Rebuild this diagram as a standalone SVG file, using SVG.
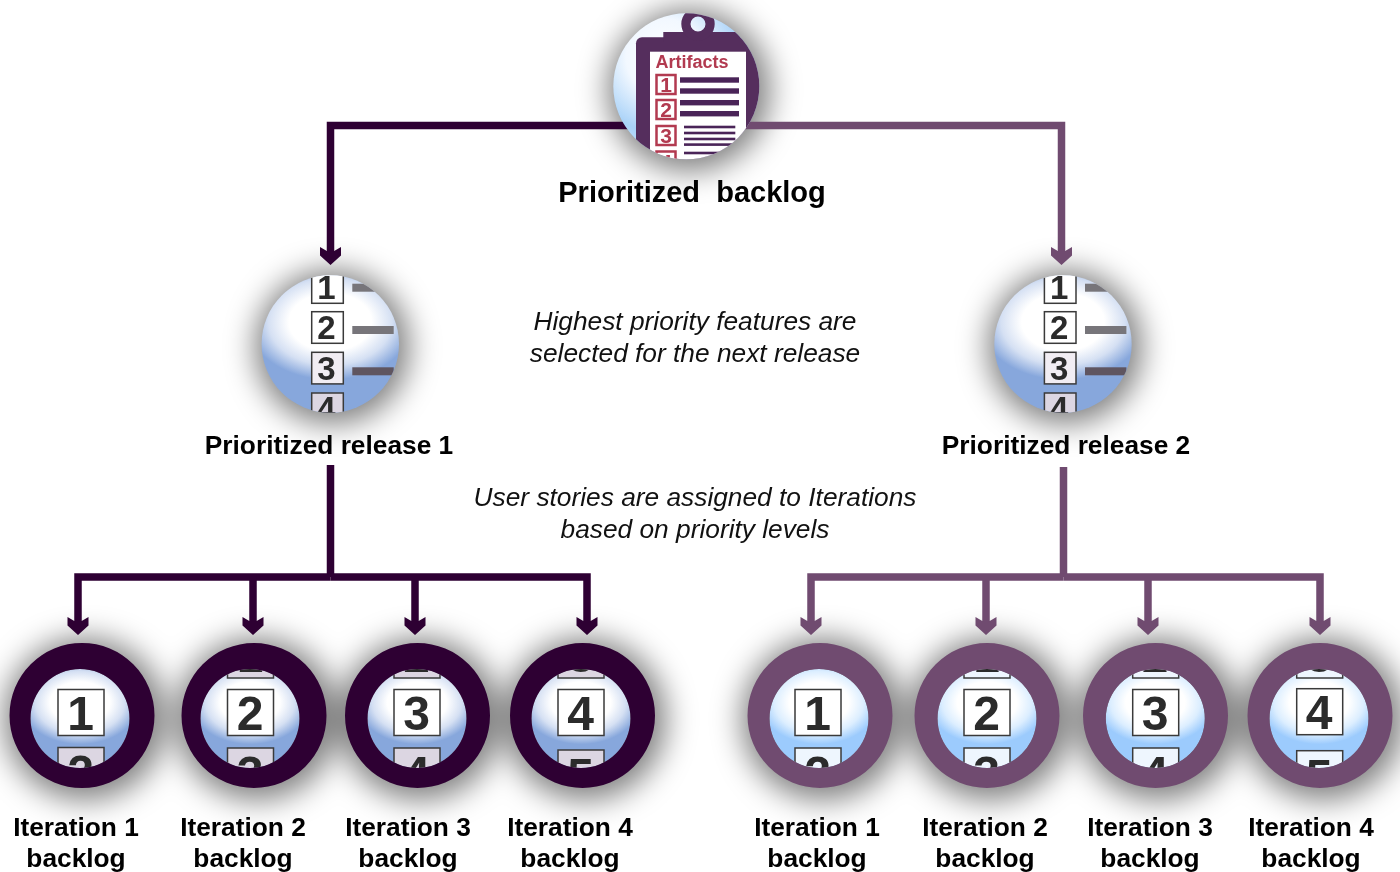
<svg xmlns="http://www.w3.org/2000/svg" width="1400" height="872" viewBox="0 0 1400 872">
<style>
text{font-family:"Liberation Sans",Arial,sans-serif}
.lab{font-size:26.300px;font-weight:700;fill:#000;text-anchor:middle}
.note{font-size:26.300px;font-style:italic;fill:#111;text-anchor:middle}
.dk{fill:none;stroke:#2e0033;stroke-width:7.500}
.lt{fill:none;stroke:#704b70;stroke-width:7.500}
.amd{marker-end:url(#headD)}
.aml{marker-end:url(#headL)}
.sh{fill:#000;opacity:.5}
.tile{fill:#fff;stroke:#3a3a3a;stroke-width:1.5}
.tileD{fill:#dcd6e2;stroke:#3a3a3a;stroke-width:1.5}
.tileL{fill:#eef6fe;stroke:#3a3a3a;stroke-width:1.5}
.big{font-size:48px;font-weight:700;fill:#2b2b2b;text-anchor:middle}
.mid{font-size:33px;font-weight:700;fill:#2b2b2b;text-anchor:middle}
.rT{fill:#fff;stroke:#b23a50;stroke-width:2.5}
.rN{font-size:21px;font-weight:700;fill:#b23a50;text-anchor:middle}
.ringD{fill:#2e0033;fill-rule:evenodd}
.ringL{fill:#704b70;fill-rule:evenodd}
.ln{fill:#4a2458}
</style>
<defs>
<filter id="blur" filterUnits="userSpaceOnUse" x="0" y="0" width="1400" height="872"><feGaussianBlur stdDeviation="15"/></filter>
<marker id="headD" viewBox="-20 -12 20 24" markerUnits="userSpaceOnUse" markerWidth="20" markerHeight="24" refX="-8" refY="0" orient="auto"><path d="M-18,-10.500L-14,-3.700V3.700L-18,10.500H-9.500L0,0L-9.500,-10.500Z" fill="#2e0033"/></marker>
<marker id="headL" viewBox="-20 -12 20 24" markerUnits="userSpaceOnUse" markerWidth="20" markerHeight="24" refX="-8" refY="0" orient="auto"><path d="M-18,-10.500L-14,-3.700V3.700L-18,10.500H-9.500L0,0L-9.500,-10.500Z" fill="#704b70"/></marker>
<radialGradient id="ballD" cx="0" cy="0" r="1" gradientTransform="translate(.5 .34) scale(.6 .42)"><stop offset="0" stop-color="#fff"/><stop offset=".5" stop-color="#fff"/><stop offset=".75" stop-color="#d5e0f3"/><stop offset="1" stop-color="#87a7dc"/></radialGradient>
<radialGradient id="ballL" cx="0" cy="0" r="1" gradientTransform="translate(.5 .34) scale(.6 .42)"><stop offset="0" stop-color="#fff"/><stop offset=".5" stop-color="#fff"/><stop offset=".75" stop-color="#dceeff"/><stop offset="1" stop-color="#9ccbfd"/></radialGradient>
<radialGradient id="ballT" cx=".35" cy=".3" r=".75"><stop offset="0" stop-color="#fff"/><stop offset=".35" stop-color="#f2f8ff"/><stop offset=".7" stop-color="#a9d2f8"/><stop offset="1" stop-color="#cfe6fb"/></radialGradient>
<clipPath id="cT"><circle cx="686.300" cy="86.300" r="73"/></clipPath>
<clipPath id="cR"><circle cx="330.300" cy="344" r="68.700"/></clipPath>
<clipPath id="c1"><circle cx="80" cy="718.500" r="49.500"/></clipPath>
<clipPath id="c2"><circle cx="250" cy="718.500" r="49.500"/></clipPath>
<clipPath id="c3"><circle cx="417" cy="718.500" r="49.500"/></clipPath>
<clipPath id="c4"><circle cx="581" cy="718.500" r="49.500"/></clipPath>
<clipPath id="c5"><circle cx="819" cy="718.500" r="49.500"/></clipPath>
<clipPath id="c6"><circle cx="987" cy="718.500" r="49.500"/></clipPath>
<clipPath id="c7"><circle cx="1155.300" cy="718.500" r="49.500"/></clipPath>
<clipPath id="c8"><circle cx="1319" cy="718.500" r="49.500"/></clipPath>
<g id="relBody">
<circle cx="330.300" cy="344" r="68.700" fill="url(#ballD)"/>
<g clip-path="url(#cR)">
<rect x="311.700" y="271.700" width="31.600" height="31.600" class="tile"/>
<rect x="311.700" y="311.700" width="31.600" height="31.600" class="tile"/>
<rect x="311.700" y="352.300" width="31.600" height="31.600" fill="#f1edf3" stroke="#3a3a3a" stroke-width="1.5"/>
<rect x="311.700" y="393" width="31.600" height="31.600" class="tileD"/>
<text x="326.500" y="299" class="mid">1</text>
<text x="326.500" y="338.500" class="mid">2</text>
<text x="326.500" y="379.500" class="mid">3</text>
<text x="326.500" y="420" class="mid">4</text>
<rect x="352.300" y="283.700" width="41.400" height="8" fill="#77757a"/>
<rect x="352.300" y="326" width="41.400" height="8" fill="#77757a"/>
<rect x="352.300" y="367.300" width="41.400" height="8" fill="#5f5560"/>
</g>
</g>
</defs>

<g id="shadows" filter="url(#blur)">
<circle cx="689" cy="90" r="81" class="sh"/>
<circle cx="332.300" cy="347" r="77" class="sh"/>
<circle cx="1065" cy="347" r="77" class="sh"/>
<circle cx="85" cy="719" r="81" class="sh"/>
<circle cx="257" cy="719" r="81" class="sh"/>
<circle cx="420" cy="719" r="81" class="sh"/>
<circle cx="585" cy="719" r="81" class="sh"/>
<circle cx="823" cy="719" r="81" class="sh"/>
<circle cx="990" cy="719" r="81" class="sh"/>
<circle cx="1158.500" cy="719" r="81" class="sh"/>
<circle cx="1323" cy="719" r="81" class="sh"/>
</g>

<g id="connectors">
<path class="dk amd" d="M640,125.500H330.500V257"/>
<path class="lt aml" d="M730,125.500H1061.500V257"/>
<path class="dk" d="M330.500,465V577"/>
<path class="dk amd" d="M330.500,577H78V627"/>
<path class="dk amd" d="M253,577V627"/>
<path class="dk amd" d="M415,577V627"/>
<path class="dk amd" d="M330.500,577H587V627"/>
<path class="lt" d="M1063.500,467V577"/>
<path class="lt aml" d="M1063.500,577H811V627"/>
<path class="lt aml" d="M986,577V627"/>
<path class="lt aml" d="M1148,577V627"/>
<path class="lt aml" d="M1063.500,577H1320V627"/>
</g>

<g id="backlog">
<circle cx="686.300" cy="86.300" r="73" fill="url(#ballT)"/>
<g clip-path="url(#cT)">
<rect x="636" y="37.300" width="140" height="130" rx="6" fill="#552e5d"/>
<rect x="663.300" y="32" width="76.700" height="10" fill="#552e5d"/>
<path fill="#552e5d" fill-rule="evenodd" d="M681.300,24a16.700,16.700 0 1 0 33.400,0a16.700,16.700 0 1 0-33.400,0ZM690.500,24a7.500,7.500 0 1 1 15,0a7.500,7.500 0 1 1-15,0Z"/>
<rect x="650" y="51.700" width="96" height="115" fill="#fff"/>
<text x="655.500" y="68.300" font-size="18" font-weight="700" fill="#b23a50">Artifacts</text>
<rect x="656.500" y="75" width="19" height="19" class="rT"/>
<rect x="656.500" y="100" width="19" height="19" class="rT"/>
<rect x="656.500" y="126" width="19" height="19" class="rT"/>
<rect x="656.500" y="151.500" width="19" height="19" class="rT"/>
<text x="666" y="92" class="rN">1</text>
<text x="666" y="117" class="rN">2</text>
<text x="666" y="143" class="rN">3</text>
<text x="666" y="169" class="rN">4</text>
<rect x="680" y="77.300" width="59" height="5.400" class="ln"/>
<rect x="680" y="88.300" width="59" height="5.400" class="ln"/>
<rect x="680" y="100" width="59" height="5.400" class="ln"/>
<rect x="680" y="111" width="59" height="5.400" class="ln"/>
<rect x="684" y="125.700" width="51.300" height="2.600" class="ln"/>
<rect x="684" y="131.700" width="51.300" height="2.600" class="ln"/>
<rect x="684" y="137.700" width="51.300" height="2.600" class="ln"/>
<rect x="684" y="143.300" width="51.300" height="2.600" class="ln"/>
<rect x="684" y="151.700" width="51.300" height="2.600" class="ln"/>
</g>
<text x="692" y="202" class="lab" style="font-size:29px;white-space:pre">Prioritized  backlog</text>
</g>

<g id="release1"><use href="#relBody"/><text x="329" y="454" class="lab">Prioritized release 1</text></g>
<g id="release2"><use href="#relBody" x="732.700"/><text x="1066" y="454" class="lab">Prioritized release 2</text></g>

<g id="note1"><text x="695" y="330" class="note">Highest priority features are</text><text x="695" y="362" class="note">selected for the next release</text></g>
<g id="note2"><text x="695" y="506" class="note">User stories are assigned to Iterations</text><text x="695" y="538" class="note">based on priority levels</text></g>

<g id="iter1-1">
<circle cx="80" cy="718.500" r="49.500" fill="url(#ballD)"/>
<g clip-path="url(#c1)"><rect x="58" y="689.500" width="46" height="46" class="tile"/><text x="80.500" y="730" class="big">1</text><rect x="58" y="747.500" width="46" height="46" class="tileD"/><text x="80.500" y="789" class="big">2</text></g>
<path class="ringD" d="M9.500,715.500a72.500,72.500 0 1 0 145,0a72.500,72.500 0 1 0-145,0ZM30.500,718.500a49.500,49.500 0 1 1 99,0a49.500,49.500 0 1 1-99,0Z"/>
<text x="76" y="836" class="lab">Iteration 1</text><text x="76" y="867" class="lab">backlog</text>
</g>
<g id="iter1-2">
<circle cx="250" cy="718.500" r="49.500" fill="url(#ballD)"/>
<g clip-path="url(#c2)"><rect x="227.500" y="632" width="46" height="46" class="tileD"/><text x="250" y="672" class="big">1</text><rect x="227.500" y="689.500" width="46" height="46" class="tile"/><text x="250" y="730" class="big">2</text><rect x="227.500" y="748" width="46" height="46" class="tileD"/><text x="250" y="790" class="big">3</text></g>
<path class="ringD" d="M181.500,715.500a72.500,72.500 0 1 0 145,0a72.500,72.500 0 1 0-145,0ZM200.500,718.500a49.500,49.500 0 1 1 99,0a49.500,49.500 0 1 1-99,0Z"/>
<text x="243" y="836" class="lab">Iteration 2</text><text x="243" y="867" class="lab">backlog</text>
</g>
<g id="iter1-3">
<circle cx="417" cy="718.500" r="49.500" fill="url(#ballD)"/>
<g clip-path="url(#c3)"><rect x="394" y="632" width="46" height="46" class="tileD"/><text x="416.500" y="672" class="big">2</text><rect x="394" y="689.500" width="46" height="46" class="tile"/><text x="416.500" y="730" class="big">3</text><rect x="394" y="748" width="46" height="46" class="tileD"/><text x="416.500" y="790" class="big">4</text></g>
<path class="ringD" d="M345,715.500a72.500,72.500 0 1 0 145,0a72.500,72.500 0 1 0-145,0ZM367.500,718.500a49.500,49.500 0 1 1 99,0a49.500,49.500 0 1 1-99,0Z"/>
<text x="408" y="836" class="lab">Iteration 3</text><text x="408" y="867" class="lab">backlog</text>
</g>
<g id="iter1-4">
<circle cx="581" cy="718.500" r="49.500" fill="url(#ballD)"/>
<g clip-path="url(#c4)"><rect x="558" y="632" width="46" height="46" class="tileD"/><text x="580.500" y="672" class="big">3</text><rect x="558" y="689.500" width="46" height="46" class="tile"/><text x="580.500" y="730" class="big">4</text><rect x="558" y="750" width="46" height="46" class="tileD"/><text x="580.500" y="792" class="big">5</text></g>
<path class="ringD" d="M510,715.500a72.500,72.500 0 1 0 145,0a72.500,72.500 0 1 0-145,0ZM531.500,718.500a49.500,49.500 0 1 1 99,0a49.500,49.500 0 1 1-99,0Z"/>
<text x="570" y="836" class="lab">Iteration 4</text><text x="570" y="867" class="lab">backlog</text>
</g>
<g id="iter2-1">
<circle cx="819" cy="718.500" r="49.500" fill="url(#ballL)"/>
<g clip-path="url(#c5)"><rect x="795" y="689.500" width="46" height="46" class="tile"/><text x="817.500" y="730" class="big">1</text><rect x="795" y="748" width="46" height="46" class="tileL"/><text x="817.500" y="790" class="big">2</text></g>
<path class="ringL" d="M747.500,715.500a72.500,72.500 0 1 0 145,0a72.500,72.500 0 1 0-145,0ZM769.500,718.500a49.500,49.500 0 1 1 99,0a49.500,49.500 0 1 1-99,0Z"/>
<text x="817" y="836" class="lab">Iteration 1</text><text x="817" y="867" class="lab">backlog</text>
</g>
<g id="iter2-2">
<circle cx="987" cy="718.500" r="49.500" fill="url(#ballL)"/>
<g clip-path="url(#c6)"><rect x="964" y="632" width="46" height="46" class="tileL"/><text x="986.500" y="672" class="big">1</text><rect x="964" y="689.500" width="46" height="46" class="tile"/><text x="986.500" y="730" class="big">2</text><rect x="964" y="748" width="46" height="46" class="tileL"/><text x="986.500" y="790" class="big">3</text></g>
<path class="ringL" d="M914.500,715.500a72.500,72.500 0 1 0 145,0a72.500,72.500 0 1 0-145,0ZM937.500,718.500a49.500,49.500 0 1 1 99,0a49.500,49.500 0 1 1-99,0Z"/>
<text x="985" y="836" class="lab">Iteration 2</text><text x="985" y="867" class="lab">backlog</text>
</g>
<g id="iter2-3">
<circle cx="1155.300" cy="718.500" r="49.500" fill="url(#ballL)"/>
<g clip-path="url(#c7)"><rect x="1132.700" y="632" width="46" height="46" class="tileL"/><text x="1155.200" y="672" class="big">2</text><rect x="1132.700" y="689.500" width="46" height="46" class="tile"/><text x="1155.200" y="730" class="big">3</text><rect x="1132.700" y="748" width="46" height="46" class="tileL"/><text x="1155.200" y="790" class="big">4</text></g>
<path class="ringL" d="M1083,715.500a72.500,72.500 0 1 0 145,0a72.500,72.500 0 1 0-145,0ZM1105.800,718.500a49.500,49.500 0 1 1 99,0a49.500,49.500 0 1 1-99,0Z"/>
<text x="1150" y="836" class="lab">Iteration 3</text><text x="1150" y="867" class="lab">backlog</text>
</g>
<g id="iter2-4">
<circle cx="1319" cy="718.500" r="49.500" fill="url(#ballL)"/>
<g clip-path="url(#c8)"><rect x="1296.700" y="632" width="46" height="46" class="tileL"/><text x="1319.200" y="672" class="big">3</text><rect x="1296.700" y="688.700" width="46" height="46" class="tile"/><text x="1319.200" y="729" class="big">4</text><rect x="1296.700" y="750.700" width="46" height="46" class="tileL"/><text x="1319.200" y="793" class="big">5</text></g>
<path class="ringL" d="M1247.500,715.500a72.500,72.500 0 1 0 145,0a72.500,72.500 0 1 0-145,0ZM1269.500,718.500a49.500,49.500 0 1 1 99,0a49.500,49.500 0 1 1-99,0Z"/>
<text x="1311" y="836" class="lab">Iteration 4</text><text x="1311" y="867" class="lab">backlog</text>
</g>
</svg>
